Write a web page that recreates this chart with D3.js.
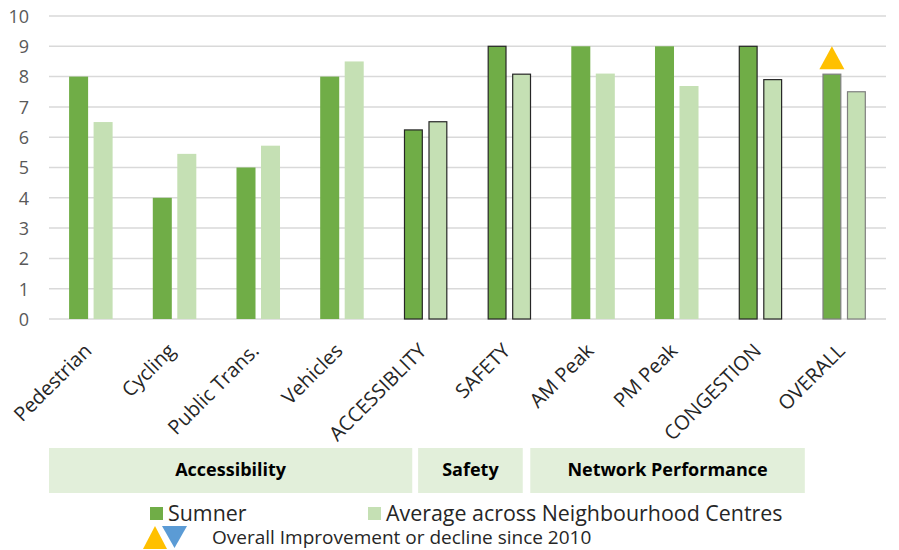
<!DOCTYPE html>
<html>
<head>
<meta charset="utf-8">
<script src="https://cdn.jsdelivr.net/npm/d3@7/dist/d3.min.js"></script>
<style>
  body { margin: 0; background: #fff; }
  svg { font-family: "Open Sans", Calibri, sans-serif; }
  .grid line { stroke: #d9d9d9; stroke-width: 1.5px; }
  .y.axis text { fill: #595959; font-size: 18px; font-family: "Open Sans", sans-serif; }
  .cat text { fill: #262626; font-size: 20px; }
  .group text { font-weight: bold; font-size: 18px; fill: #000; }
  .legend text { fill: #262626; }
</style>
</head>
<body>
<div id="chart"></div>
<script>
// data
const categories = ["Pedestrian", "Cycling", "Public Trans.", "Vehicles", "ACCESSIBLITY",
                    "SAFETY", "AM Peak", "PM Peak", "CONGESTION", "OVERALL"];
const sumner = [8, 4, 5, 8, 6.24, 9, 9, 9, 9, 8.08];
const average = [6.5, 5.45, 5.72, 8.5, 6.51, 8.08, 8.1, 7.69, 7.9, 7.5];
// which categories have an outlined pair of bars
const outlined = [null, null, null, null, "#262626", "#262626", null, null, "#262626", "#7f7f7f"];
const yTicks = [0, 1, 2, 3, 4, 5, 6, 7, 8, 9, 10];
// group boxes under the axis, in category-index units
const groups = [
    { name: "Accessibility", from: 0, to: 4.34 },
    { name: "Safety", from: 4.41, to: 5.66 },
    { name: "Network Performance", from: 5.75, to: 9.03 }
];
const seriesNames = ["Sumner", "Average across Neighbourhood Centres"];
const seriesColors = ["#70ad47", "#c5e0b4"];
const trendLabel = "Overall Improvement or decline since 2010";
const trend = { category: "OVERALL", dir: "up" };

const W = 899, H = 550;
const m = { left: 49, right: 13, top: 16 };
const plotH = 303;
const plotW = W - m.left - m.right;

const svg = d3.select("#chart").append("svg")
    .attr("width", W).attr("height", H);
const g = svg.append("g").attr("transform", "translate(" + m.left + "," + m.top + ")");

const x = d3.scaleBand().domain(categories).range([0, plotW]).paddingInner(0.48).paddingOuter(0.24);
const xSub = d3.scaleBand().domain([0, 1]).range([0, x.bandwidth()]).paddingInner(0.224);
const xIdx = d3.scaleLinear().domain([0, categories.length]).range([0, plotW]);
const y = d3.scaleLinear().domain([0, 10]).range([plotH, 0]);

// gridlines
g.append("g").attr("class", "grid")
    .selectAll("line").data(yTicks).enter().append("line")
    .attr("x1", 0).attr("x2", plotW)
    .attr("y1", d => y(d)).attr("y2", d => y(d));

// y axis labels
const yAxis = d3.axisLeft(y).tickValues(yTicks).tickSize(0).tickPadding(20);
g.append("g").attr("class", "y axis").call(yAxis)
    .call(s => s.select(".domain").remove())
    .selectAll("text").attr("dy", "0.35em");

// bars
const rows = categories.map((c, i) => ({ c: c, vals: [sumner[i], average[i]], outline: outlined[i] }));
const bars = g.append("g").selectAll("g").data(rows).enter().append("g")
    .attr("transform", d => "translate(" + x(d.c) + ",0)");
bars.selectAll("rect").data(d => d.vals.map((v, k) => ({ v: v, k: k, outline: d.outline })))
    .enter().append("rect")
    .attr("x", d => xSub(d.k) + (d.outline ? 0.6 : 0))
    .attr("width", d => xSub.bandwidth() - (d.outline ? 1.2 : 0))
    .attr("y", d => y(d.v))
    .attr("height", d => plotH - y(d.v))
    .attr("fill", d => seriesColors[d.k])
    .attr("stroke", d => d.outline || "none")
    .attr("stroke-width", 1.2);

// improvement marker
const tx = x(trend.category) + xSub(0) + xSub.bandwidth() / 2;
const ty = y(sumner[categories.indexOf(trend.category)]) - 5;
g.append("path")
    .attr("d", "M" + (tx - 12.5) + "," + ty + "L" + (tx + 12.5) + "," + ty + "L" + tx + "," + (ty - 23) + "Z")
    .attr("fill", "#ffc000");

// category labels
g.append("g").attr("class", "cat").selectAll("text").data(categories).enter().append("text")
    .attr("text-anchor", "end")
    .attr("transform", d => "translate(" + (x(d) + x.bandwidth() / 2 + 2) + "," + (plotH + 33) + ") rotate(-45)")
    .text(d => d);

// group boxes
const gb = g.append("g").attr("class", "group").selectAll("g").data(groups).enter().append("g");
gb.append("rect")
    .attr("x", d => xIdx(d.from)).attr("width", d => xIdx(d.to) - xIdx(d.from))
    .attr("y", 432).attr("height", 45)
    .attr("fill", "#e2efda");
gb.append("text")
    .attr("x", d => (xIdx(d.from) + xIdx(d.to)) / 2).attr("y", 460)
    .attr("text-anchor", "middle")
    .text(d => d.name);

// legend
const lg = svg.append("g").attr("class", "legend");
const legX = [150, 368];
seriesNames.forEach((n, i) => {
    lg.append("rect").attr("x", legX[i]).attr("y", 507).attr("width", 13).attr("height", 13)
        .attr("fill", seriesColors[i]);
    lg.append("text").attr("x", legX[i] + 18).attr("y", 521).attr("font-size", 21.4).text(n);
});
lg.append("path").attr("d", "M143,549L167,549L155,526Z").attr("fill", "#ffc000");
lg.append("path").attr("d", "M162,526L187,526L174.5,548Z").attr("fill", "#5b9bd5");
lg.append("text").attr("x", 212).attr("y", 544).attr("font-size", 19).text(trendLabel);
</script>
</body>
</html>
